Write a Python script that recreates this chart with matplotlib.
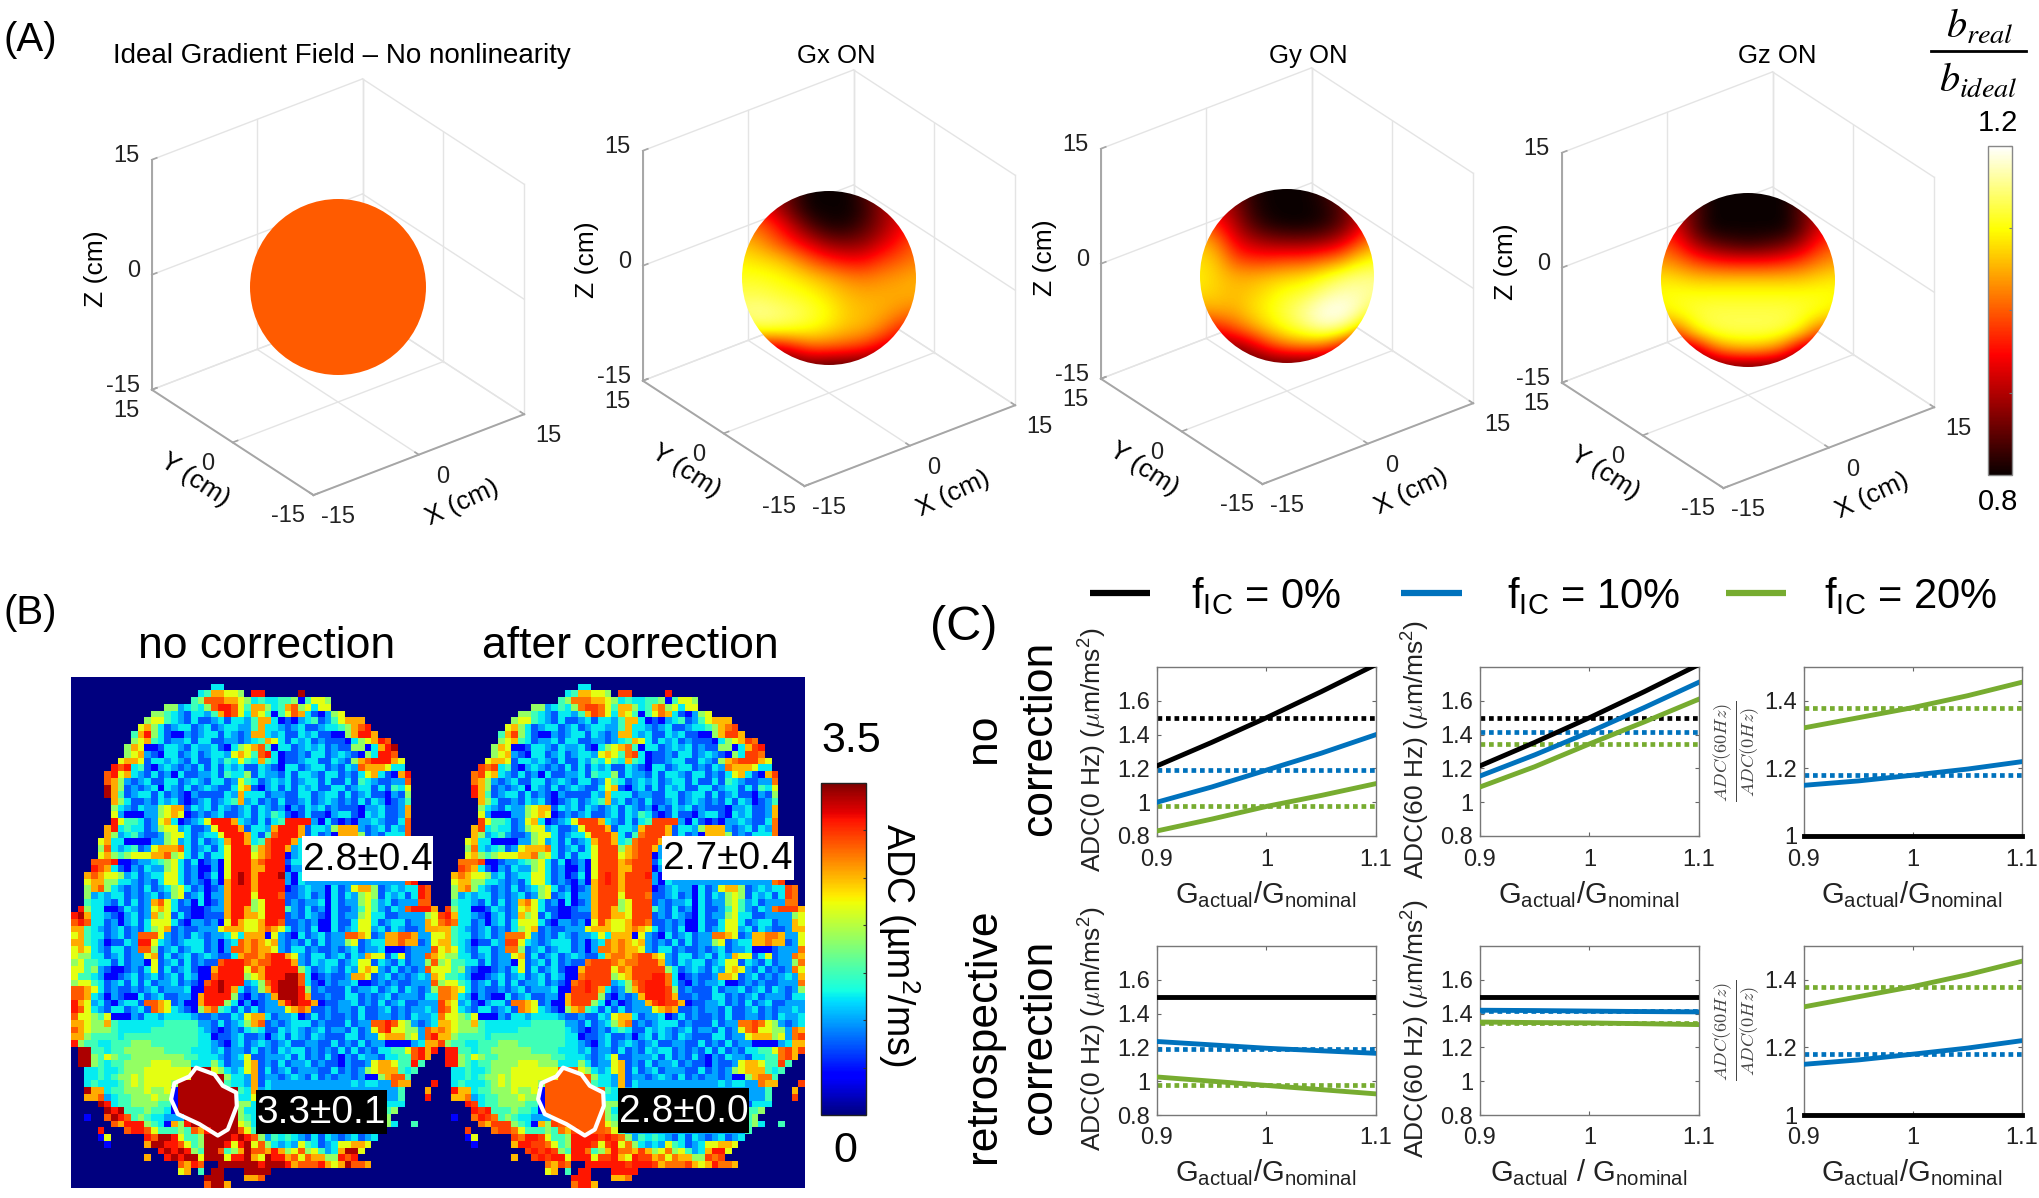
import numpy as np
import matplotlib
matplotlib.use("Agg")
import matplotlib.pyplot as plt
from matplotlib.patches import Circle, Polygon, Rectangle
from matplotlib.lines import Line2D
from matplotlib.cm import ScalarMappable
from matplotlib.colors import Normalize
from mpl_toolkits.mplot3d import proj3d

plt.rcParams['font.family'] = ['Liberation Sans', 'DejaVu Sans']
plt.rcParams['mathtext.fontset'] = 'custom'
plt.rcParams['mathtext.rm'] = 'Liberation Sans'
plt.rcParams['mathtext.it'] = 'Liberation Sans:italic'
plt.rcParams['mathtext.bf'] = 'Liberation Sans:bold'
plt.rcParams['mathtext.default'] = 'regular'

W, H = 2040, 1198

# ---------- panel A data: b_real/b_ideal seen on the sphere (rows top to bottom)
TITLES_A = ["Ideal Gradient Field \u2013 No nonlinearity", "Gx ON", "Gy ON", "Gz ON"]
TITLE_SIZES = [20, 18.5, 18.5, 18.5]
TITLE_X = [342, 836, 1308, 1777]
TICKS_3D = [-15, 0, 15]
IDEAL = [[1.0, 1.0], [1.0, 1.0]]
GX = [
 [.90,.90,.88,.84,.80,.80,.80,.84,.88,.90,.90],
 [.96,.95,.90,.84,.80,.80,.80,.82,.88,.92,.94],
 [1.02,1.00,.96,.90,.84,.81,.81,.84,.88,.93,.97],
 [1.06,1.04,1.00,.96,.92,.88,.87,.88,.92,.96,1.0],
 [1.09,1.08,1.07,1.04,1.0,.97,.95,.95,.98,1.0,1.02],
 [1.11,1.11,1.10,1.09,1.07,1.05,1.03,1.02,1.03,1.04,1.05],
 [1.13,1.13,1.12,1.11,1.10,1.08,1.06,1.05,1.05,1.05,1.05],
 [1.15,1.16,1.15,1.14,1.12,1.10,1.07,1.06,1.05,1.03,1.01],
 [1.10,1.12,1.12,1.11,1.10,1.08,1.06,1.05,1.02,.97,.94],
 [.92,.92,.92,.96,1.00,1.00,.99,.97,.93,.90,.90],
 [.84,.84,.84,.84,.85,.84,.84,.84,.84,.84,.84]]
GY = [
 [.90,.90,.86,.82,.80,.80,.80,.82,.86,.90,.90],
 [.94,.92,.88,.82,.80,.80,.80,.81,.84,.90,.94],
 [1.0,.96,.90,.84,.81,.80,.80,.81,.84,.90,.98],
 [1.06,1.02,.94,.90,.88,.87,.87,.88,.91,.97,1.03],
 [1.08,1.06,.99,.97,.97,.98,.98,1.0,1.02,1.07,1.10],
 [1.09,1.07,1.05,1.05,1.06,1.07,1.08,1.10,1.13,1.15,1.15],
 [1.08,1.07,1.06,1.07,1.09,1.11,1.12,1.15,1.17,1.17,1.16],
 [1.04,1.05,1.05,1.08,1.10,1.13,1.16,1.19,1.20,1.18,1.12],
 [.95,.96,1.0,1.04,1.08,1.11,1.14,1.17,1.16,1.10,1.0],
 [.88,.88,.88,.92,.98,1.02,1.03,1.02,.97,.90,.88],
 [.84,.84,.84,.84,.85,.85,.85,.85,.85,.85,.85]]
GZ = [
 [.88,.86,.83,.80,.80,.80,.80,.80,.83,.86,.88],
 [.92,.90,.85,.80,.80,.80,.80,.80,.85,.90,.92],
 [.95,.92,.84,.80,.80,.80,.80,.80,.84,.92,.95],
 [1.00,.96,.90,.86,.84,.83,.84,.86,.90,.96,1.00],
 [1.04,1.02,.99,.97,.96,.96,.96,.97,.99,1.02,1.04],
 [1.09,1.08,1.07,1.07,1.07,1.07,1.07,1.07,1.07,1.08,1.09],
 [1.10,1.11,1.11,1.11,1.11,1.11,1.11,1.11,1.11,1.11,1.10],
 [1.08,1.10,1.12,1.13,1.13,1.13,1.13,1.13,1.12,1.10,1.08],
 [.98,1.00,1.09,1.12,1.13,1.13,1.13,1.12,1.09,1.00,.98],
 [.88,.88,.90,1.00,1.04,1.05,1.04,1.00,.90,.88,.88],
 [.84,.84,.84,.84,.85,.85,.85,.84,.84,.84,.84]]
FIELDS = [IDEAL, GX, GY, GZ]

# ---------- panel B data: ADC map, one code per voxel
BRAIN_ROWS = """
..... ..... ..... ..... ..... ..... ..... ..... ..... ..... .....
..... ..... ..... ..... .44.. ..... ..... ..... ..... ..... .....
..... ..... ..... ....4 58877 6.RR. ....D ..... ..... ..... .....
..... ..... ..... ...56 99988 76454 45561 5776. ..... ..... .....
..... ..... ....6 63454 69RR9 75886 45896 7477. ..... ..... .....
..... ..... ..665 43244 358R9 74875 15798 42136 7.... ..... .....
..... ..... .6775 43242 23424 43588 41213 45235 7888. ..... .....
..... ..... 78642 34423 42344 33584 43234 22344 5689R ..... .....
..... ....5 8R642 11323 44243 23884 34224 34221 168RR 8.... .....
..... ....6 78542 33424 42233 23458 74243 42322 21467 8R9.. .....
..... ...68 71124 43243 34214 67895 14423 43423 22661 48RD. .....
..... ...67 83214 42342 34437 8759R 41223 24423 43216 4RR9. .....
..... ..788 72443 43242 24354 75485 41223 44224 32689 RRR87 .....
..... .R9R4 52134 32324 24243 42243 21442 34423 24398 88744 .....
..... 9R784 32423 14223 34254 46243 32424 43244 23247 84218 R....
..... 98632 34224 42343 24423 75423 43423 44242 24254 32233 9....
..... D8623 23414 32423 43224 78213 42424 34224 42344 24254 7....
..... D8523 44242 32132 22243 84442 33224 42344 24234 22132 6....
..... .8642 23243 42123 42345 83423 24223 42343 23242 43123 5....
..... .6432 43367 88243 42432 34243 23132 43423 22213 34223 8....
..... .7311 13367 87123 23422 34243 54212 42213 44214 34223 8....
..... .R755 42378 41234 7RRR8 43242 45RRR R3142 12133 43224 9....
..... 8R454 42367 73422 37RRR 82443 8RRR8 24436 88832 34243 9....
..... 86345 32236 77423 447RR R8425 9RRR8 24231 88862 32444 9....
....7 84411 11336 73424 2348R R8459 RRR84 33333 33333 33333 9....
....6 94345 23788 89423 4247R RR689 RR834 33333 33333 33333 8....
....7 86567 77889 67424 2447R RR789 RR134 33333 33333 33333 8....
...99 9R112 33456 74241 2317R RR89R RR244 33333 33333 33333 9....
...R9 84213 24336 74231 1317R RR88R RR133 33333 33333 33333 9....
..898 77634 23447 74231 2417R DR8RR RD314 33333 33333 33333 9....
..788 66443 23247 74232 1318R DR8RR RR314 33333 33333 33333 9R...
..689 64323 24234 67423 1238R RR8RR RR123 43314 23788 62343 44R9.
..634 34423 23423 67234 1338R RR7RR R9223 42314 24367 62434 24R9.
..544 32424 23897 42314 1238R RR67R RR232 33414 23367 53423 3399.
.R644 11243 23787 42211 2338R R867R RR532 42314 22357 53243 9RRR8
RD844 32134 23867 24211 2228R R887R RR232 43214 23367 44223 33367
9R944 23134 24777 42133 2317R 8778R R9223 23114 22477 42344 23387
88543 23423 24678 23223 33788 87789 87423 24114 23477 34243 22388
78544 23423 99973 23243 23347 48881 73214 23423 39987 23889 98337
88543 12243 RR743 23444 23134 98987 83232 42423 36723 44889 88237
78743 24423 99623 42344 23139 98988 73244 23223 23423 34111 23339
76644 23423 37824 23423 43224 89989 RR873 24423 42438 77247 23398
67554 42423 31723 42423 229RR R9899 RRR83 24344 23477 24324 23369
77563 21123 24724 23421 18RRR R798R RRRR6 42343 24378 73242 32397
75543 11234 23423 42431 19RRR R678R RRDD9 41232 23887 23423 23438
67754 23424 24233 42321 9RDRR R3469 RDDD9 42132 33411 23232 23339
99874 23223 23423 33411 RRDR8 42368 RDDDR 62322 24233 42342 43236
99843 13211 42342 23318 RRRR6 21323 8DDDR 82232 24423 23423 33244
R8734 21344 29987 23118 RRR64 13123 38RDR R8122 33423 24234 22333
R9743 24423 42987 43216 89542 42423 33789 82232 33242 23423 23343
97765 71113 24434 44432 23224 37884 23341 24232 23242 23323 24334
88766 85444 44445 55553 32423 46892 32344 42322 24233 99R97 63234
98766 65444 44555 55554 32123 24542 24343 23423 32423 79R77 66398
88655 55455 55555 55554 41223 42231 34243 24322 24423 37888 6739R
R6554 45556 66555 55554 43213 42343 23422 33224 23242 33111 13488
.DD55 45566 66665 55544 43423 32423 24344 23232 42423 24455 79R8R
.DD65 76556 66666 66554 44323 47223 33424 23242 13243 32445 59R8.
.DD65 45566 66777 66644 46423 37823 24233 42322 13223 78875 5R5..
..445 44566 67777 777TT T7643 47824 23423 33224 23236 78885 45...
..445 45667 67777 777TT TTT64 43823 32343 24232 33231 16899 5....
..454 44567 67777 6TTTT TTT54 43824 33333 33333 33434 43398 8...R
..D88 45566 67667 1TTTT TTTTT 54834 33333 33333 33333 33335 ...8.
..889 34556 66766 1TTTT TTTTT 44733 33333 33333 33333 33335 ...R.
....D R4556 66655 1TTTT TTTTT 66433 33333 33333 33333 32444 .....
..... DRD55 56554 1TTTT TTTTT 64433 33333 33333 33333 4556. .....
..1.. 9DR95 65443 33TTT TTTTT 65433 33333 33333 33333 456.. .....
..... .98RR R6541 86RTT TTTTT 76433 33333 33333 33333 3564. .5...
....R ...9R R9755 56598 RTTTT 97533 33333 33333 33333 35... .....
....1 7.... .R9DD R7556 DDDDR DR963 54543 24243 23423 4.... .....
..... 1.... .8DDR R9756 DDDR7 RD796 43437 54234 77887 ..... .....
..... ..... ...RD RDR65 DD956 8D998 R8679 67534 8DD7. ..... .....
..... ..... .8..R DRDD7 DDD7R RD87D RR897 98866 R9R.. ..... .....
..... ..... ..... .98R9 ..DDD DDDRD DDR89 99R87 8D998 ..... .....
..... ..... ..... .78.5 .DD.. .DDDD ..... ..... ..... ..... .....
..... ..... ..... ..... DDD.. .889. ..... ..... ..... ..... .....
..... ..... ..... ..... 9DD8. ..... ..... ..... ..... ..... .....
""".strip().splitlines()
LEVELS_BEFORE = {'.':0,'1':.45,'2':.75,'3':1.0,'4':1.25,'5':1.5,'6':1.85,'7':2.2,'8':2.55,
                 '9':2.85,'R':3.1,'D':3.35,'T':3.35}
LEVELS_AFTER  = {'.':0,'1':.45,'2':.75,'3':1.0,'4':1.25,'5':1.5,'6':1.85,'7':2.2,'8':2.5,
                 '9':2.75,'R':2.95,'D':3.1,'T':2.85}
ROI_COLS = [18.75,21.5,22.75,24.75,24.85,23.5,22,19.25,16,15,15.5,17.75]
ROI_ROWS = [58.1,59.1,60.8,61.8,63.8,67.3,68.2,66.5,65,62.8,60.4,59.4]
TITLES_B = ["no correction", "after correction"]

# ---------- panel C data
G = [0.90, 0.95, 1.00, 1.05, 1.10]
ADC0_BLACK_NC  = [1.215, 1.354, 1.50, 1.654, 1.815]
ADC0_BLUE_NC   = [1.00, 1.09, 1.19, 1.29, 1.40]
ADC0_GREEN_NC  = [0.83, 0.90, 0.975, 1.04, 1.11]
ADC60_BLUE_NC  = [1.155, 1.28, 1.415, 1.56, 1.71]
ADC60_GREEN_NC = [1.09, 1.21, 1.345, 1.475, 1.61]
RATIO_BLACK    = [1.0, 1.0, 1.0, 1.0, 1.0]
RATIO_BLUE     = [1.15, 1.163, 1.18, 1.198, 1.22]
RATIO_GREEN    = [1.32, 1.35, 1.38, 1.415, 1.455]
ADC0_BLACK_RC  = [1.50, 1.50, 1.50, 1.50, 1.50]
ADC0_BLUE_RC   = [1.235, 1.215, 1.195, 1.18, 1.165]
ADC0_GREEN_RC  = [1.025, 1.00, 0.975, 0.95, 0.925]
ADC60_BLUE_RC  = [1.42, 1.418, 1.415, 1.412, 1.41]
ADC60_GREEN_RC = [1.35, 1.347, 1.345, 1.34, 1.335]
REF_ADC0  = [1.50, 1.19, 0.975]
REF_ADC60 = [1.50, 1.415, 1.345]
REF_RATIO = [1.0, 1.18, 1.38]
FIC_LABELS = ["f$_{IC}$ = 0%", "f$_{IC}$ = 10%", "f$_{IC}$ = 20%"]
LINE_COLORS = ['#000000', '#0072BD', '#77AC30']
ADC_TICKS = [0.8, 1.0, 1.2, 1.4, 1.6]
ADC_TICKLABELS = ['0.8', '1', '1.2', '1.4', '1.6']
RATIO_TICKS = [1.0, 1.2, 1.4]
RATIO_TICKLABELS = ['1', '1.2', '1.4']
G_TICKS = [0.9, 1.0, 1.1]
G_TICKLABELS = ['0.9', '1', '1.1']

fig = plt.figure(figsize=(W/100, H/100), dpi=100, facecolor='white')

def rect(x0, y0, x1, y1):
    return [x0/W, 1-y1/H, (x1-x0)/W, (y1-y0)/H]

def ftext(x, y, s, **kw):
    kw.setdefault('ha', 'center'); kw.setdefault('va', 'center')
    return fig.text(x/W, 1-y/H, s, **kw)

# ---------- panel A
CENTERS = [(338, 287), (829, 278), (1287, 276), (1748, 280)]
RADII = [88, 87, 87, 87]
Z_SPAN = 230
AX_COL, GRID_COL = '#a6a6a6', '#e4e4e4'

def proj_px(ax, x, y, z):
    xp, yp, _ = proj3d.proj_transform(x, y, z, ax.get_proj())
    return ax.transData.transform((xp, yp))

for (cx, cy), r, title, tsize, tx, field in zip(CENTERS, RADII, TITLES_A, TITLE_SIZES, TITLE_X, FIELDS):
    S = 600
    ax = fig.add_axes(rect(cx-S/2, cy-S/2, cx+S/2, cy+S/2), projection='3d', proj_type='ortho')
    ax.set_autoscale_on(False)
    ax.view_init(elev=30, azim=-127.5)
    ax.set_xlim(-15, 15); ax.set_ylim(-15, 15); ax.set_zlim(-15, 15)
    ax.set_box_aspect((1, 1, 1))
    ax.set_axis_off(); ax.patch.set_visible(False)
    a, b = -15, 15
    for t in TICKS_3D:
        ax.plot([t, t], [b, b], [a, b], color=GRID_COL, lw=1.0)
        ax.plot([b, b], [t, t], [a, b], color=GRID_COL, lw=1.0)
        ax.plot([t, t], [a, b], [a, a], color=GRID_COL, lw=1.0)
        ax.plot([a, b], [t, t], [a, a], color=GRID_COL, lw=1.0)
        ax.plot([a, b], [b, b], [t, t], color=GRID_COL, lw=1.0)
        ax.plot([b, b], [a, b], [t, t], color=GRID_COL, lw=1.0)
    ax.plot([a, b], [a, a], [a, a], color=AX_COL, lw=1.4)
    ax.plot([a, a], [a, b], [a, a], color=AX_COL, lw=1.4)
    ax.plot([a, a], [b, b], [a, b], color=AX_COL, lw=1.4)
    for t in TICKS_3D:
        ax.plot([t, t], [a, a+.7], [a, a], color=AX_COL, lw=1.2)
        ax.plot([a, a+.7], [t, t], [a, a], color=AX_COL, lw=1.2)
        ax.plot([a, a+.7], [b, b], [t, t], color=AX_COL, lw=1.2)

    # fit the cube to its size and place on the page
    fig.canvas.draw()
    span = abs(proj_px(ax, 0, 0, 15)[1] - proj_px(ax, 0, 0, -15)[1])
    ax.set_box_aspect((1, 1, 1), zoom=Z_SPAN/span)
    fig.canvas.draw()
    c = proj_px(ax, 0, 0, 0)
    dx = cx - c[0]; dy = (H-cy) - c[1]
    pos = ax.get_position()
    ax.set_position([pos.x0 + dx/W, pos.y0 + dy/H, pos.width, pos.height])
    fig.canvas.draw()

    def label3d(x, y, z, s, **kw):
        px, py = proj_px(ax, x, y, z)
        return fig.text(px/W, py/H, s, **kw)

    for t in TICKS_3D:
        label3d(t, a-4.5, a-0.8, str(t), fontsize=17, ha='center', va='center', color='#222222')
        label3d(a-3.6, t, a-1.5, str(t), fontsize=17, ha='center', va='center', color='#222222')
        label3d(a-1.7, b, t+1.1, str(t), fontsize=17, ha='right', va='center', color='#222222')
    label3d(0, -23, -17.6, "X (cm)", fontsize=19, rotation=25, ha='center', va='center', rotation_mode='anchor')
    label3d(-20.4, 0, -18, "Y (cm)", fontsize=19, rotation=-33, ha='center', va='center', rotation_mode='anchor')
    label3d(-22.9, 15, 3.6, "Z (cm)", fontsize=19, rotation=90, ha='center', va='center', rotation_mode='anchor')

    sp = fig.add_axes(rect(cx-r, cy-r, cx+r, cy+r))
    sp.axis('off')
    arr = np.array(field)
    half = arr.shape[0] / (arr.shape[0] - 1)     # voxel centres of the outer rows sit on the rim
    im = sp.imshow(arr, cmap='hot', vmin=0.8, vmax=1.2, extent=(-half, half, -half, half),
                   interpolation='bicubic', aspect='auto')
    sp.set_xlim(-1, 1); sp.set_ylim(-1, 1)
    clip = Circle((0, 0), 1.0, transform=sp.transData)
    im.set_clip_path(clip)
    ftext(tx, 56, title, fontsize=tsize)

ftext(30, 40, "(A)", fontsize=29)

cax_a = fig.add_axes(rect(1988, 146, 2012, 475))
cb = fig.colorbar(ScalarMappable(Normalize(0.8, 1.2), 'hot'), cax=cax_a)
cb.set_ticks([0.8, 0.9, 1.0, 1.1, 1.2])
cb.ax.tick_params(direction='in', length=2, labelright=False, color='#777777', width=.8)
cb.outline.set_edgecolor('#888888'); cb.outline.set_linewidth(1)
ftext(1998, 123, "1.2", fontsize=21)
ftext(1998, 502, "0.8", fontsize=21)
ftext(1980, 26, r"$\mathit{b}_{\mathit{real}}$", fontsize=29, math_fontfamily='stix')
ftext(1978, 80, r"$\mathit{b}_{\mathit{ideal}}$", fontsize=29, math_fontfamily='stix')
fig.add_artist(Line2D([1931/W, 2026/W], [1-51/H, 1-51/H], color='black', lw=2))

# ---------- panel B
ftext(30, 613, "(B)", fontsize=29)
grid = [row.replace(' ', '').ljust(55, '.')[:55] for row in BRAIN_ROWS]
for (x0, x1), levels, title, tc in zip([(71, 438), (438, 805)], [LEVELS_BEFORE, LEVELS_AFTER], TITLES_B, [267, 630]):
    ax = fig.add_axes(rect(x0, 677, x1, 1188))
    data = np.array([[levels[c] for c in row] for row in grid])
    ax.imshow(data, cmap='jet', vmin=0, vmax=3.5, extent=(0, 55, len(grid), 0),
              interpolation='nearest', aspect='auto')
    ax.add_patch(Polygon(np.column_stack([ROI_COLS, ROI_ROWS]), closed=True, fill=False, ec='white', lw=3, joinstyle='round'))
    ax.axis('off')
    ftext(tc, 647, title, fontsize=32)

for (x0, y0, x1, y1), s, fc, tc in [
        ((302, 836, 433, 881), "2.8\u00b10.4", 'white', 'black'),
        ((662, 836, 794, 880), "2.7\u00b10.4", 'white', 'black'),
        ((256, 1090, 387, 1134), "3.3\u00b10.1", 'black', 'white'),
        ((618, 1088, 749, 1133), "2.8\u00b10.0", 'black', 'white')]:
    fig.add_artist(Rectangle((x0/W, 1-y1/H), (x1-x0)/W, (y1-y0)/H, transform=fig.transFigure, fc=fc, ec='none', zorder=5))
    ftext((x0+x1)/2, (y0+y1)/2+1, s, fontsize=28, color=tc, zorder=6)

cax_b = fig.add_axes(rect(821, 783, 866, 1115))
cb2 = fig.colorbar(ScalarMappable(Normalize(0, 3.5), 'jet'), cax=cax_b)
cb2.set_ticks([0, .5, 1, 1.5, 2, 2.5, 3, 3.5])
cb2.ax.tick_params(direction='in', length=2, labelright=False, color='#333333', width=.8)
cb2.outline.set_edgecolor('#222222'); cb2.outline.set_linewidth(1)
ftext(851, 741, "3.5", fontsize=31)
ftext(845, 1151, "0", fontsize=31)
ftext(899, 945, "ADC (\u00b5m$^2$/ms)", fontsize=27, rotation=-90)

# ---------- panel C
ftext(964, 627, "(C)", fontsize=35)
for (x0, x1), col, lab, (tx0, tx1) in zip([(1090, 1150), (1401, 1462), (1726, 1786)], LINE_COLORS, FIC_LABELS,
                                         [(1188, 1345), (1502, 1686), (1820, 2002)]):
    fig.add_artist(Line2D([x0/W, x1/W], [1-593/H, 1-593/H], color=col, lw=4.5, solid_capstyle='butt'))
    ftext((tx0+tx1)/2, 596, lab, fontsize=30)

ftext(984, 738, "no", fontsize=32, rotation=90)
ftext(1040, 738, "correction", fontsize=32, rotation=90)
ftext(984, 1036, "retrospective", fontsize=32, rotation=90)
ftext(1040, 1037, "correction", fontsize=32, rotation=90)

COLS = [(1157, 1376), (1480, 1699), (1804, 2022)]
ROWS = [(667, 836), (946, 1115)]
PANELS = [
    [([ADC0_BLACK_NC, ADC0_BLUE_NC, ADC0_GREEN_NC], REF_ADC0, 'adc'),
     ([ADC0_BLACK_NC, ADC60_BLUE_NC, ADC60_GREEN_NC], REF_ADC60, 'adc'),
     ([RATIO_BLACK, RATIO_BLUE, RATIO_GREEN], REF_RATIO, 'ratio')],
    [([ADC0_BLACK_RC, ADC0_BLUE_RC, ADC0_GREEN_RC], REF_ADC0, 'adc'),
     ([ADC0_BLACK_RC, ADC60_BLUE_RC, ADC60_GREEN_RC], REF_ADC60, 'adc'),
     ([RATIO_BLACK, RATIO_BLUE, RATIO_GREEN], REF_RATIO, 'ratio')]]
YLABELS = ["ADC(0 Hz) ($\\mathit{\\mu}$m/ms$^2$)", "ADC(60 Hz) ($\\mathit{\\mu}$m/ms$^2$)"]
YLAB_X = [1093, 1416]
RATIO_LABEL = r"$\frac{\mathit{ADC(60Hz)}}{\mathit{ADC(0Hz)}}$"
XLAB = "G$_{actual}$/G$_{nominal}$"
XLAB_SP = "G$_{actual}$ / G$_{nominal}$"
XLAB_Y = [895, 1173]

for i, (y0, y1) in enumerate(ROWS):
    for j, (x0, x1) in enumerate(COLS):
        series, refs, kind = PANELS[i][j]
        ax = fig.add_axes(rect(x0, y0, x1, y1))
        for s, ref, col in zip(series, refs, LINE_COLORS):
            if not (kind == 'ratio' and col == '#000000'):
                if not (i == 1 and col == '#000000'):
                    ax.plot(G, [ref]*len(G), color=col, lw=3.4, ls=(0, (1, 0.8)), zorder=2)
            ax.plot(G, s, color=col, lw=3.5, zorder=3, clip_on=not (kind == 'ratio' and col == '#000000'))
        ax.set_xlim(0.9, 1.1)
        ax.set_xticks(G_TICKS); ax.set_xticklabels(G_TICKLABELS)
        if kind == 'adc':
            ax.set_ylim(0.8, 1.8)
            ax.set_yticks(ADC_TICKS); ax.set_yticklabels(ADC_TICKLABELS)
            ftext(YLAB_X[j], (y0+y1)/2 - 2, YLABELS[j], fontsize=19, rotation=90, color='#222222', math_fontfamily='cm')
        else:
            ax.set_ylim(1.0, 1.5)
            ax.set_yticks(RATIO_TICKS); ax.set_yticklabels(RATIO_TICKLABELS)
            ftext(1736, (y0+y1)/2, RATIO_LABEL, fontsize=19, rotation=90, color='#444444', math_fontfamily='cm')
        ax.tick_params(direction='in', length=3, width=.8, color='#666666', top=True, right=True,
                       labelsize=17, pad=5, labelcolor='#222222')
        ax.tick_params(axis='x', pad=9)
        for sp_ in ax.spines.values():
            sp_.set_color('#777777'); sp_.set_linewidth(1)
        lab = XLAB_SP if (i == 1 and j == 1) else XLAB
        ftext((x0+x1)/2 - 1, XLAB_Y[i], lab, fontsize=21, color='#222222')

fig.savefig('out.png', dpi=100)
